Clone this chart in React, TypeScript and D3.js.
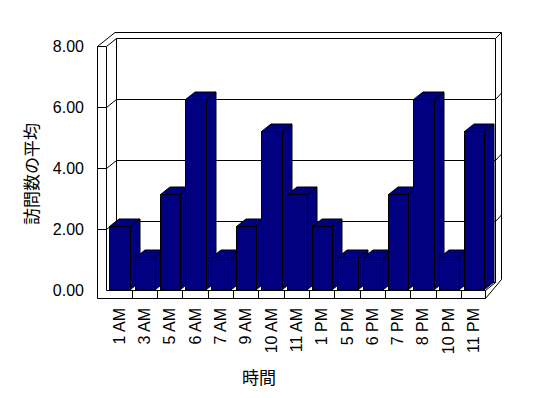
import React from "react";
import * as d3 from "d3";

const hours = ["1 AM", "3 AM", "5 AM", "6 AM", "7 AM", "9 AM", "10 AM", "11 AM", "1 PM", "5 PM", "6 PM", "7 PM", "8 PM", "10 PM", "11 PM"];
const visits = [2, 1, 3, 6, 1, 2, 5, 3, 2, 1, 1, 3, 6, 1, 5];
const yTicks = [0, 2, 4, 6, 8];

const W = 548;
const H = 398;
const NAVY = "#000080";

// frame geometry (oblique 3d box like the old office charts)
const fx0 = 97.5; // left wall, front outer edge
const fx1 = 106.5; // left wall, front inner edge / plot start
const bx0 = 116.5; // back wall left
const bx1 = 495.5; // back wall right (inner)
const bx2 = 501.5; // back wall right (outer)
const floorTop = 290.5;
const floorBot = 298.5;
const floorRight = 485.5;
const wallTopOuter = 32.5;

const App = () => {
  const x = d3.scaleBand<string>().domain(hours).range([106.4, 486.3]);
  const yFront = d3.scaleLinear().domain([0, 8]).range([290.5, 46.5]);
  const yWall = d3.scaleLinear().domain([0, 8]).range([282.5, 38.5]);
  const yBar = d3.scaleLinear().domain([0, 8]).range([289, 36]);
  const fmt = d3.format(".2f");

  const bw = x.bandwidth();
  const barW = bw * 0.81;
  const barOff = bw * 0.115;
  const ddx = 9.5;
  const ddy = -7.5;

  const line = (pts: [number, number][]) => d3.line()(pts) as string;

  return (
    <svg
      width={W}
      height={H}
      style={{ position: "fixed", left: 0, top: 0, background: "#fff" }}
    >
      <g fill="none" stroke="#000" strokeWidth={1}>
        {/* back wall top and right thickness */}
        <path d={line([[115, wallTopOuter], [bx2, wallTopOuter], [bx2, 279.5]])} />
        <path d={line([[bx0, yWall(8)], [bx1, yWall(8)], [bx1, yWall(0)]])} />
        <path d={line([[bx1, yWall(8)], [bx2, wallTopOuter]])} />
        <path d={line([[bx0, yWall(8)], [bx0, yWall(0)], [bx1, yWall(0)]])} />
        {/* left wall */}
        <path d={line([[fx0, yFront(8)], [fx0, floorBot]])} />
        <path d={line([[fx1, yFront(8)], [fx1, floorTop]])} />
        <path d={line([[fx0, yFront(8)], [115, wallTopOuter]])} />
        <path d={line([[fx0, yFront(8)], [fx1, yFront(8)], [bx0, yWall(8)]])} />
        {/* gridlines */}
        {yTicks
          .filter((v) => v > 0 && v < 8)
          .map((v) => (
            <g key={v}>
              <path d={line([[fx0, yFront(v)], [fx1, yFront(v)], [bx0, yWall(v)], [bx1, yWall(v)], [bx2, yWall(v) - 6.5]])} />
            </g>
          ))}
        {/* floor */}
        <path d={line([[fx1, floorTop], [floorRight, floorTop], [bx1, yWall(0)]])} />
        <path d={line([[fx0, floorBot], [floorRight, floorBot], [bx2, 279.5]])} />
        <path d={line([[floorRight, floorTop], [floorRight, floorBot]])} />
        {hours.slice(1).map((h) => (
          <path key={h} d={line([[Math.round(x(h)!) + 0.5, floorTop], [Math.round(x(h)!) + 0.5, floorBot]])} />
        ))}
      </g>

      {/* bars */}
      <g fill={NAVY} stroke="#000" strokeWidth={1} strokeLinejoin="miter">
        {hours.map((h, i) => {
          const x0 = Math.round(x(h)! + barOff) + 0.5;
          const x1 = Math.round(x(h)! + barOff + barW) + 0.5;
          const yt = Math.round(yBar(visits[i])) + 0.5;
          const yb = Math.round(yBar(0)) + 0.5;
          return (
            <g key={h}>
              <path d={line([[x1, yb], [x1 + ddx, yb + ddy], [x1 + ddx, yt + ddy], [x1, yt]]) + "Z"} />
              <path d={line([[x0, yt], [x0 + ddx, yt + ddy], [x1 + ddx, yt + ddy], [x1, yt]]) + "Z"} />
              <rect x={x0} y={yt} width={x1 - x0} height={yb - yt} />
            </g>
          );
        })}
      </g>

      {/* value axis labels */}
      <g fontFamily="'Liberation Sans', Arial, sans-serif" fontSize={16} fill="#000">
        {yTicks.map((v) => (
          <text key={v} x={84} y={yFront(v)} textAnchor="end" dominantBaseline="central">
            {fmt(v)}
          </text>
        ))}
        {hours.map((h) => (
          <text
            key={h}
            transform={`translate(${x(h)! + bw / 2},308) rotate(-90)`}
            textAnchor="end"
            dominantBaseline="central"
          >
            {h}
          </text>
        ))}
      </g>

      {/* axis titles */}
      <g fontFamily="'Noto Sans CJK JP', sans-serif" fontSize={17} fill="#000">
        <text x={259} y={376} textAnchor="middle" dominantBaseline="central">
          時間
        </text>
        <text
          transform="translate(30,174) rotate(-90)"
          textAnchor="middle"
          dominantBaseline="central"
        >
          訪問数の平均
        </text>
      </g>
    </svg>
  );
};

export default App;
